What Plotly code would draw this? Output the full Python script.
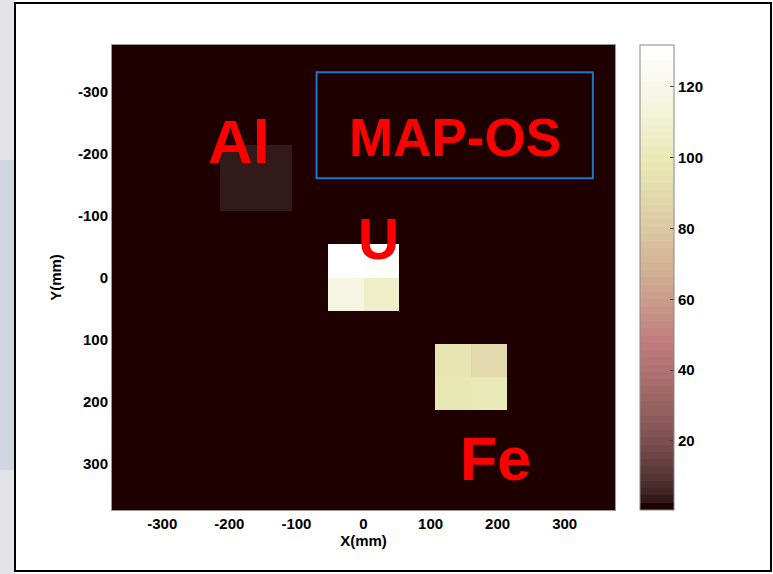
import numpy as np
import plotly.graph_objects as go

# ---- data ----
cell_centers = [-348.21, -294.64, -241.07, -187.5, -133.93, -80.36, -26.79,
                26.79, 80.36, 133.93, 187.5, 241.07, 294.64, 348.21]
background_value = 0.5
max_value = 131.8
# 2x2 blocks: values [[top-left, top-right],[bottom-left, bottom-right]]
al_block = [[3.5, 3.5], [3.5, 3.5]]
u_block = [[130.0, 129.0], [117.0, 106.0]]
fe_block = [[96.5, 89.0], [98.0, 99.0]]
block_positions = {"Al": (3, 3), "U": (6, 6), "Fe": (9, 9)}
x_ticks = [-300, -200, -100, 0, 100, 200, 300]
y_ticks = [-300, -200, -100, 0, 100, 200, 300]
tick_labels = ["-300", "-200", "-100", "0", "100", "200", "300"]
cbar_ticks = [20, 40, 60, 80, 100, 120]

n = len(cell_centers)
z = [[background_value] * n for _ in range(n)]
for name, block in (("Al", al_block), ("U", u_block), ("Fe", fe_block)):
    r0, c0 = block_positions[name]
    for i in range(2):
        for j in range(2):
            z[r0 + i][c0 + j] = block[i][j]

# MATLAB "pink" colormap with 64 discrete levels
N = 64
gray = np.arange(N) / (N - 1)
n1 = int(3 / 8 * N)
hr = np.concatenate([np.arange(1, n1 + 1) / n1, np.ones(N - n1)])
hg = np.concatenate([np.zeros(n1), np.arange(1, n1 + 1) / n1, np.ones(N - 2 * n1)])
hb = np.concatenate([np.zeros(2 * n1), np.arange(1, N - 2 * n1 + 1) / (N - 2 * n1)])
pr = np.sqrt((2 * gray + hr) / 3)
pg = np.sqrt((2 * gray + hg) / 3)
pb = np.sqrt((2 * gray + hb) / 3)
colorscale = []
for i in range(N):
    c = "rgb(%d,%d,%d)" % (round(pr[i] * 255), round(pg[i] * 255), round(pb[i] * 255))
    colorscale.append([i / N, c])
    colorscale.append([(i + 1) / N, c])

font_family = "Liberation Sans, Arial, sans-serif"
tick_font = dict(family=font_family, size=15, color="black", weight="bold")

fig = go.Figure()
fig.add_trace(go.Heatmap(
    x=cell_centers, y=cell_centers, z=z,
    colorscale=colorscale,
    zmin=background_value, zmax=max_value,
    colorbar=dict(
        x=1.0497, xanchor="left", xref="paper",
        y=0.5, yanchor="middle", len=1, lenmode="fraction", ypad=0, xpad=0,
        thickness=34, thicknessmode="pixels",
        outlinewidth=1, outlinecolor="#888888",
        tickvals=cbar_ticks, ticks="inside", ticklen=4, tickcolor="#444444",
        tickfont=tick_font,
    ),
    hoverinfo="skip",
))

red_font = lambda s: dict(family=font_family, size=s, color="#ff0000")
annots = [
    dict(text="<b>Al</b>", x=-186, y=-220, size=62),
    dict(text="<b>MAP-OS</b>", x=136, y=-226, size=53),
    dict(text="<b>U</b>", x=22, y=-62, size=57),
    dict(text="<b>Fe</b>", x=197, y=292, size=61),
]
for a in annots:
    fig.add_annotation(x=a["x"], y=a["y"], xref="x", yref="y", text=a["text"],
                       showarrow=False, font=red_font(a["size"]),
                       xanchor="center", yanchor="middle")

# blue box around MAP-OS
fig.add_shape(type="rect", xref="x", yref="y", x0=-70, x1=342, y0=-331, y1=-160,
              line=dict(color="#1a78c8", width=2), fillcolor="rgba(0,0,0,0)")

# left-side colorbar ticks (MATLAB style)
px = lambda p: (p - 112) / 503
py = lambda p: (510 - p) / 465
for v in cbar_ticks:
    yy = (v - background_value) / (max_value - background_value)
    fig.add_shape(type="line", xref="paper", yref="paper",
                  x0=px(641), x1=px(645), y0=yy, y1=yy,
                  line=dict(color="#444444", width=1))

# left grey strip and outer frame (paper coords)
fig.add_shape(type="rect", xref="paper", yref="paper", layer="below",
              x0=px(0), x1=px(15), y0=py(574), y1=py(0),
              fillcolor="#e2e3e6", line=dict(width=0))
fig.add_shape(type="rect", xref="paper", yref="paper", layer="below",
              x0=px(0), x1=px(15), y0=py(470), y1=py(160),
              fillcolor="#d0d6e1", line=dict(width=0))
fig.add_shape(type="rect", xref="paper", yref="paper",
              x0=px(15), x1=px(771), y0=py(571), y1=py(3),
              line=dict(color="black", width=2), fillcolor="rgba(0,0,0,0)")

axis_common = dict(showgrid=False, zeroline=False, ticks="",
                   tickfont=tick_font,
                   showline=True, linecolor="#999999", linewidth=1, mirror=True)
fig.update_layout(
    width=773, height=574, autosize=False,
    margin=dict(l=112, r=158, t=45, b=64),
    paper_bgcolor="white", plot_bgcolor="white",
    xaxis=dict(range=[-375, 375], tickvals=x_ticks, ticktext=tick_labels,
               title=dict(text="X(mm)", font=tick_font, standoff=2),
               **axis_common),
    yaxis=dict(range=[375, -375], tickvals=y_ticks, ticktext=tick_labels,
               title=dict(text="Y(mm)", font=tick_font, standoff=12),
               **axis_common),
)

fig.write_html("out.html")
